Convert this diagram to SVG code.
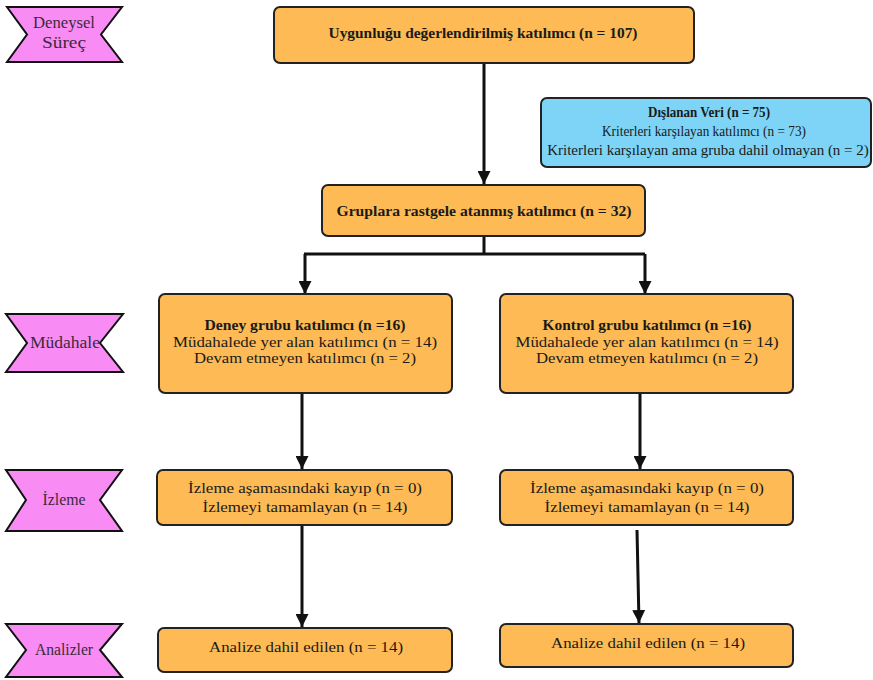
<svg xmlns="http://www.w3.org/2000/svg" width="873" height="680" viewBox="0 0 873 680">
<defs>
<style>
.box{fill:#FDBA55;stroke:#222;stroke-width:2}
.blue{fill:#7DD4F6;stroke:#222;stroke-width:2}
.ban{fill:#F98CF4;stroke:#111;stroke-width:2}
.t{font-family:"Liberation Serif","Times New Roman",serif;font-size:15px;fill:#1a1a1a;text-anchor:middle}
.b{font-weight:bold}
.bt{font-family:"Liberation Serif","Times New Roman",serif;font-size:16px;fill:#3a2a3a;text-anchor:middle}
.ln{fill:none;stroke:#111;stroke-width:3}
</style>
<marker id="a" viewBox="0 0 10 10" refX="10" refY="5" markerWidth="13" markerHeight="13" markerUnits="userSpaceOnUse" orient="auto">
<path d="M0,0 L10,5 L0,10 Z" fill="#111"/>
</marker>
</defs>

<g id="connectors">
<path class="ln" d="M484,63 V184" marker-end="url(#a)"/>
<path class="ln" d="M484,236 V254"/>
<path class="ln" d="M304,254 H645"/>
<path class="ln" d="M305,254 V294" marker-end="url(#a)"/>
<path class="ln" d="M645,254 V294" marker-end="url(#a)"/>
<path class="ln" d="M302,393 V469" marker-end="url(#a)"/>
<path class="ln" d="M640,393 V469" marker-end="url(#a)"/>
<path class="ln" d="M302,525 V627" marker-end="url(#a)"/>
<path class="ln" d="M637,530 L639,623" marker-end="url(#a)"/>
</g>

<g id="banner-deneysel">
<path class="ban" d="M7,7 H122 L101,34.5 L122,62 H7 L27,34.5 Z"/>
<text class="bt" x="64" y="28" textLength="62" lengthAdjust="spacingAndGlyphs">Deneysel</text>
<text class="bt" x="64" y="48" textLength="44" lengthAdjust="spacingAndGlyphs">Süreç</text>
</g>
<g id="banner-mudahale">
<path class="ban" d="M6,314 H123 L100,343 L123,372 H6 L27,343 Z"/>
<text class="bt" x="65" y="348" textLength="70" lengthAdjust="spacingAndGlyphs">Müdahale</text>
</g>
<g id="banner-izleme">
<path class="ban" d="M6,470 H122 L100,500 L122,531 H6 L26,500 Z"/>
<text class="bt" x="64" y="505" textLength="43" lengthAdjust="spacingAndGlyphs">İzleme</text>
</g>
<g id="banner-analizler">
<path class="ban" d="M6,624 H122 L100,650 L122,677 H6 L26,650 Z"/>
<text class="bt" x="64" y="655" textLength="58" lengthAdjust="spacingAndGlyphs">Analizler</text>
</g>

<g id="n-uygun">
<rect class="box" x="274" y="7" width="420" height="56" rx="6"/>
<text class="t b" x="483" y="38" textLength="309" lengthAdjust="spacingAndGlyphs">Uygunluğu değerlendirilmiş katılımcı (n = 107)</text>
</g>
<g id="n-dislanan">
<rect class="blue" x="541" y="98" width="330" height="69" rx="6"/>
<text class="t b" x="709" y="117" font-size="14" textLength="122" lengthAdjust="spacingAndGlyphs">Dışlanan Veri (n = 75)</text>
<text class="t" x="704" y="136" font-size="13" textLength="204" lengthAdjust="spacingAndGlyphs">Kriterleri karşılayan katılımcı (n = 73)</text>
<text class="t" x="708" y="155" font-size="11.8">Kriterleri karşılayan ama gruba dahil olmayan (n = 2)</text>
</g>
<g id="n-gruplara">
<rect class="box" x="322" y="185" width="323" height="51" rx="6"/>
<text class="t b" x="484" y="216" textLength="295" lengthAdjust="spacingAndGlyphs">Gruplara rastgele atanmış katılımcı (n = 32)</text>
</g>
<g id="n-deney">
<rect class="box" x="159" y="294" width="293" height="99" rx="6"/>
<text class="t b" x="305" y="330" textLength="201" lengthAdjust="spacingAndGlyphs">Deney grubu katılımcı (n =16)</text>
<text class="t" x="305" y="347" textLength="264" lengthAdjust="spacingAndGlyphs">Müdahalede yer alan katılımcı (n = 14)</text>
<text class="t" x="305" y="363" textLength="222" lengthAdjust="spacingAndGlyphs">Devam etmeyen katılımcı (n = 2)</text>
</g>
<g id="n-kontrol">
<rect class="box" x="500" y="294" width="293" height="99" rx="6"/>
<text class="t b" x="647" y="330" textLength="209" lengthAdjust="spacingAndGlyphs">Kontrol grubu katılımcı (n =16)</text>
<text class="t" x="647" y="347" textLength="263" lengthAdjust="spacingAndGlyphs">Müdahalede yer alan katılımcı (n = 14)</text>
<text class="t" x="647" y="363" textLength="222" lengthAdjust="spacingAndGlyphs">Devam etmeyen katılımcı (n = 2)</text>
</g>
<g id="n-izleme-l">
<rect class="box" x="157" y="470" width="295" height="55" rx="6"/>
<text class="t" x="305" y="493" textLength="234" lengthAdjust="spacingAndGlyphs">İzleme aşamasındaki kayıp (n = 0)</text>
<text class="t" x="305" y="512" textLength="205" lengthAdjust="spacingAndGlyphs">İzlemeyi tamamlayan (n = 14)</text>
</g>
<g id="n-izleme-r">
<rect class="box" x="500" y="470" width="293" height="55" rx="6"/>
<text class="t" x="647" y="493" textLength="234" lengthAdjust="spacingAndGlyphs">İzleme aşamasındaki kayıp (n = 0)</text>
<text class="t" x="647" y="512" textLength="205" lengthAdjust="spacingAndGlyphs">İzlemeyi tamamlayan (n = 14)</text>
</g>
<g id="n-analiz-l">
<rect class="box" x="158" y="628" width="294" height="44" rx="6"/>
<text class="t" x="306" y="652" textLength="194" lengthAdjust="spacingAndGlyphs">Analize dahil edilen (n = 14)</text>
</g>
<g id="n-analiz-r">
<rect class="box" x="500" y="624" width="293" height="43" rx="6"/>
<text class="t" x="648" y="648" textLength="194" lengthAdjust="spacingAndGlyphs">Analize dahil edilen (n = 14)</text>
</g>
</svg>
